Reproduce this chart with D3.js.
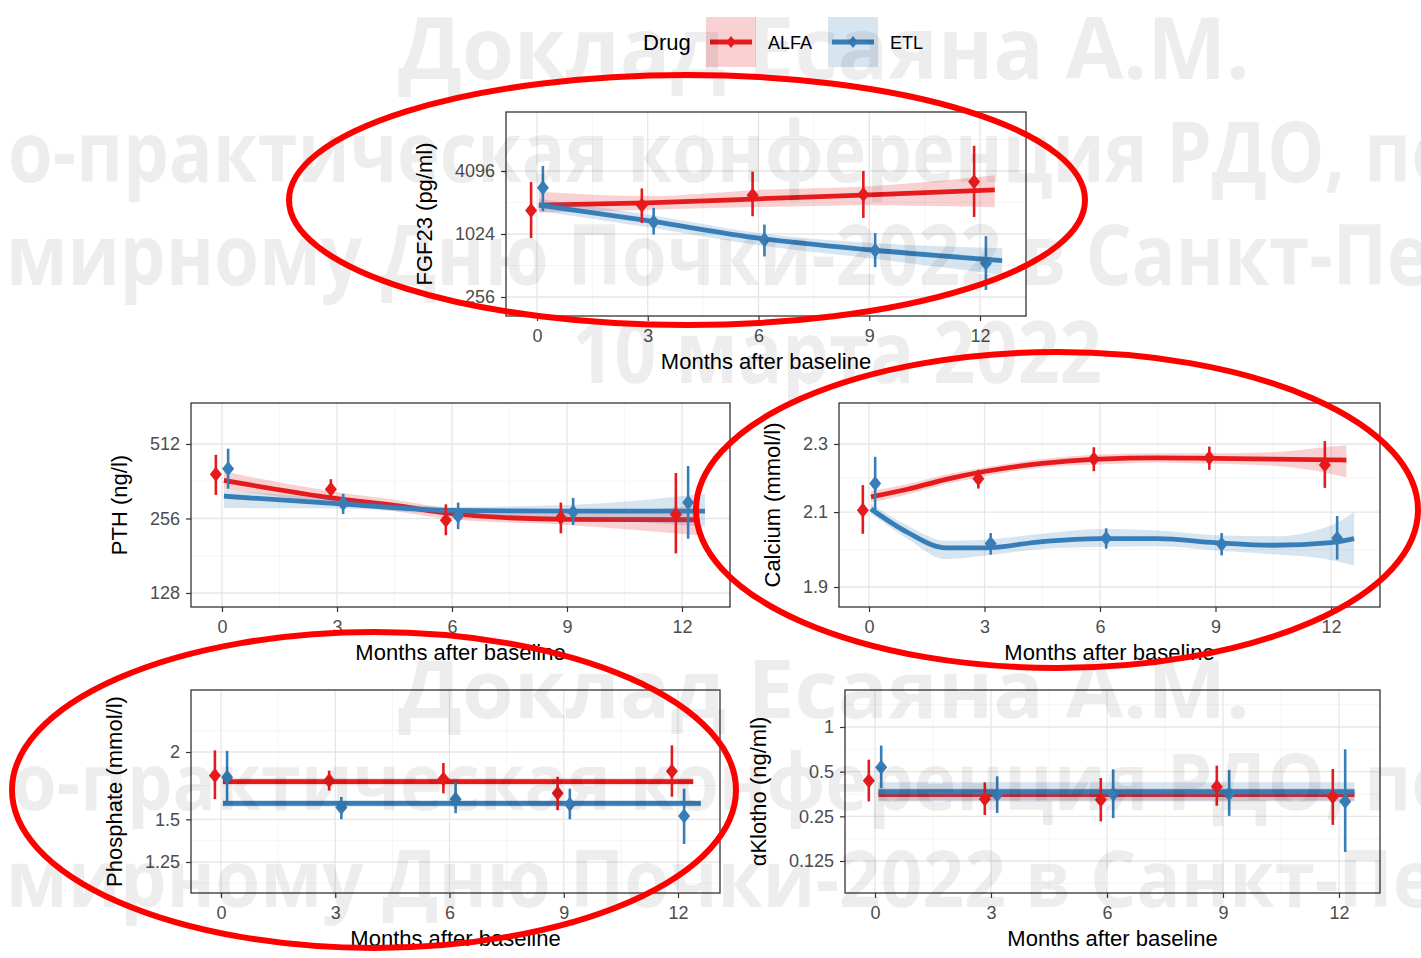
<!DOCTYPE html>
<html>
<head>
<meta charset="utf-8">
<script src="https://cdn.jsdelivr.net/npm/d3@7"></script>
<style>
  body { margin: 0; background: #fff; }
  svg { display: block; }
  text { font-family: "Liberation Sans", Arial, sans-serif; }
</style>
</head>
<body>
<svg id="chart" width="1421" height="958"></svg>
<script>
// ---------- data ----------
const months = [0, 3, 6, 9, 12];
const drugs = ["ALFA", "ETL"];
const drugColors = ["#E41A1C", "#377EB8"];

// FGF23 (pg/ml): observed mean and interval per visit
const fgf23Alfa   = [1718, 1932, 2407, 2443, 3235];
const fgf23AlfaLo = [938, 1306, 1514, 1460, 1490];
const fgf23AlfaHi = [3213, 2790, 4036, 4096, 7130];
const fgf23Etl    = [2832, 1335, 903, 714, 538];
const fgf23EtlLo  = [1690, 1010, 625, 494, 299];
const fgf23EtlHi  = [4570, 1822, 1260, 1046, 973];
// FGF23 fitted trend with confidence band
const fgf23FitXAlfa = [0.05, 3, 6, 9, 12.4];
const fgf23FitAlfa   = [1930, 2030, 2220, 2420, 2700];
const fgf23FitAlfaLo = [1631, 1750, 1850, 1930, 1845];
const fgf23FitAlfaHi = [2594, 2360, 2700, 2930, 3730];
const fgf23FitXEtl = [0.05, 3, 6, 9, 12.6];
const fgf23FitEtl   = [1930, 1375, 935, 724, 570];
const fgf23FitEtlLo = [1700, 1185, 800, 600, 417];
const fgf23FitEtlHi = [2220, 1570, 1046, 843, 750];

// PTH (ng/l)
const pthAlfa   = [386, 336, 252, 258, 266];
const pthAlfaLo = [319, 306, 219, 223, 185];
const pthAlfaHi = [463, 369, 292, 297, 391];
const pthEtl    = [407, 294, 262, 272, 297];
const pthEtlLo  = [338, 267, 232, 241, 212];
const pthEtlHi  = [490, 322, 297, 310, 417];
const pthFitXAlfa = [0.05, 3, 4.5, 6, 9, 12.4];
const pthFitAlfa   = [365, 308, 289, 268, 254, 253];
const pthFitAlfaLo = [336, 293, 274, 254, 241, 219];
const pthFitAlfaHi = [396, 327, 305, 281, 268, 289];
const pthFitXEtl = [0.05, 3, 6, 9, 12.6];
const pthFitEtl   = [315, 294, 276, 274, 274];
const pthFitEtlLo = [282, 281, 266, 258, 237];
const pthFitEtlHi = [334, 308, 285, 290, 322];

// Calcium (mmol/l)
const caAlfa   = [2.105, 2.196, 2.254, 2.258, 2.236];
const caAlfaLo = [2.040, 2.167, 2.218, 2.222, 2.169];
const caAlfaHi = [2.177, 2.222, 2.290, 2.292, 2.309];
const caEtl    = [2.182, 2.014, 2.028, 2.012, 2.028];
const caEtlLo  = [2.105, 1.984, 2.000, 1.982, 1.971];
const caEtlHi  = [2.261, 2.042, 2.055, 2.042, 2.089];
const caFitXAlfa = [0.05, 1, 2, 3, 4.5, 6, 7.5, 9, 10.5, 12, 12.4];
const caFitAlfa   = [2.143, 2.165, 2.194, 2.217, 2.241, 2.254, 2.258, 2.256, 2.254, 2.252, 2.251];
const caFitAlfaLo = [2.127, 2.150, 2.180, 2.203, 2.229, 2.238, 2.244, 2.240, 2.234, 2.210, 2.200];
const caFitAlfaHi = [2.160, 2.180, 2.208, 2.229, 2.254, 2.268, 2.272, 2.272, 2.275, 2.292, 2.296];
const caFitXEtl = [0.05, 1, 2, 3, 4.5, 6, 7.5, 9, 10.5, 12, 12.6];
const caFitEtl   = [2.109, 2.044, 2.002, 2.002, 2.019, 2.027, 2.027, 2.016, 2.009, 2.016, 2.027];
const caFitEtlLo = [2.095, 2.026, 1.972, 1.981, 1.999, 2.004, 2.006, 1.995, 1.985, 1.970, 1.955];
const caFitEtlHi = [2.124, 2.063, 2.021, 2.024, 2.040, 2.053, 2.049, 2.036, 2.033, 2.063, 2.100];

// Phosphate (mmol/l)
const phosAlfa   = [1.808, 1.770, 1.783, 1.676, 1.843];
const phosAlfaLo = [1.635, 1.696, 1.676, 1.560, 1.652];
const phosAlfaHi = [2.014, 1.847, 1.908, 1.799, 2.058];
const phosEtl    = [1.795, 1.577, 1.636, 1.600, 1.521];
const phosEtlLo  = [1.620, 1.500, 1.540, 1.500, 1.350];
const phosEtlHi  = [2.010, 1.650, 1.760, 1.710, 1.710];
const phosFitXAlfa = [0.05, 12.4];
const phosFitAlfa   = [1.762, 1.762];
const phosFitAlfaLo = [1.738, 1.738];
const phosFitAlfaHi = [1.787, 1.787];
const phosFitXEtl = [0.05, 12.6];
const phosFitEtl   = [1.606, 1.606];
const phosFitEtlLo = [1.583, 1.583];
const phosFitEtlHi = [1.630, 1.630];

// alpha-Klotho (ng/ml)
const klAlfa   = [0.435, 0.327, 0.323, 0.396, 0.339];
const klAlfaLo = [0.315, 0.255, 0.231, 0.295, 0.219];
const klAlfaHi = [0.602, 0.424, 0.453, 0.549, 0.521];
const klEtl    = [0.535, 0.350, 0.353, 0.353, 0.315];
const klEtlLo  = [0.387, 0.263, 0.243, 0.252, 0.144];
const klEtlHi  = [0.750, 0.465, 0.519, 0.514, 0.707];
const klFitXAlfa = [0.09, 12.4];
const klFitAlfa   = [0.350, 0.350];
const klFitAlfaLo = [0.320, 0.320];
const klFitAlfaHi = [0.385, 0.385];
const klFitXEtl = [0.09, 12.4];
const klFitEtl   = [0.366, 0.366];
const klFitEtlLo = [0.315, 0.315];
const klFitEtlHi = [0.425, 0.425];

// axis ticks
const fgf23Ticks = [256, 1024, 4096];
const pthTicks = [128, 256, 512];
const caTicks = [1.9, 2.1, 2.3];
const phosTicks = [1.25, 1.5, 2];
const klTicks = [0.125, 0.25, 0.5, 1];
const fgf23TickLabels = ["256", "1024", "4096"];
const pthTickLabels = ["128", "256", "512"];
const caTickLabels = ["1.9", "2.1", "2.3"];
const phosTickLabels = ["1.25", "1.5", "2"];
const klTickLabels = ["0.125", "0.25", "0.5", "1"];
const xTitle = "Months after baseline";

// ---------- helpers ----------
function series(x, y, lo, hi) { return x.map((v, i) => ({ x: v, y: y[i], lo: lo[i], hi: hi[i] })); }
function visits(y, lo, hi) { return months.map((m, i) => ({ x: m, y: y[i], lo: lo[i], hi: hi[i] })); }

// panel table: box = [left, top, right, bottom]
const panels = [
  { title: "FGF23 (pg/ml)", box: [506, 112, 1026, 316], x0: 537, x12: 980, ticks: fgf23Ticks, labels: fgf23TickLabels, yPx: [297, 171],
    obs: [visits(fgf23Alfa, fgf23AlfaLo, fgf23AlfaHi), visits(fgf23Etl, fgf23EtlLo, fgf23EtlHi)],
    fit: [series(fgf23FitXAlfa, fgf23FitAlfa, fgf23FitAlfaLo, fgf23FitAlfaHi), series(fgf23FitXEtl, fgf23FitEtl, fgf23FitEtlLo, fgf23FitEtlHi)] },
  { title: "PTH (ng/l)", box: [191, 403, 730, 607], x0: 222, x12: 682, ticks: pthTicks, labels: pthTickLabels, yPx: [593, 444],
    obs: [visits(pthAlfa, pthAlfaLo, pthAlfaHi), visits(pthEtl, pthEtlLo, pthEtlHi)],
    fit: [series(pthFitXAlfa, pthFitAlfa, pthFitAlfaLo, pthFitAlfaHi), series(pthFitXEtl, pthFitEtl, pthFitEtlLo, pthFitEtlHi)] },
  { title: "Calcium (mmol/l)", box: [839, 403, 1380, 607], x0: 869, x12: 1331, ticks: caTicks, labels: caTickLabels, yPx: [587, 444],
    obs: [visits(caAlfa, caAlfaLo, caAlfaHi), visits(caEtl, caEtlLo, caEtlHi)],
    fit: [series(caFitXAlfa, caFitAlfa, caFitAlfaLo, caFitAlfaHi), series(caFitXEtl, caFitEtl, caFitEtlLo, caFitEtlHi)] },
  { title: "Phosphate (mmol/l)", box: [191, 690, 720, 893], x0: 221, x12: 678, ticks: phosTicks, labels: phosTickLabels, yPx: [862, 752],
    obs: [visits(phosAlfa, phosAlfaLo, phosAlfaHi), visits(phosEtl, phosEtlLo, phosEtlHi)],
    fit: [series(phosFitXAlfa, phosFitAlfa, phosFitAlfaLo, phosFitAlfaHi), series(phosFitXEtl, phosFitEtl, phosFitEtlLo, phosFitEtlHi)] },
  { title: "\u03b1Klotho (ng/ml)", box: [845, 690, 1380, 893], x0: 875, x12: 1339, ticks: klTicks, labels: klTickLabels, yPx: [861, 727],
    obs: [visits(klAlfa, klAlfaLo, klAlfaHi), visits(klEtl, klEtlLo, klEtlHi)],
    fit: [series(klFitXAlfa, klFitAlfa, klFitAlfaLo, klFitAlfaHi), series(klFitXEtl, klFitEtl, klFitEtlLo, klFitEtlHi)] }
];

const dodge = [-0.16, 0.16];

// diamond marker: half-width 6, half-height 7.5
const wideDiamond = {
  draw(ctx) {
    ctx.moveTo(0, -7.5); ctx.lineTo(6, 0); ctx.lineTo(0, 7.5); ctx.lineTo(-6, 0); ctx.closePath();
  }
};
const diamondPath = d3.symbol(wideDiamond)();

// minor breaks on the log-transformed scale, midway between majors
function minorBreaks(ticks) {
  const L = ticks.map(Math.log);
  const bd = L[1] - L[0];
  const ext = [L[0] - bd, ...L, L[L.length - 1] + bd];
  const out = [];
  for (let i = 0; i < ext.length - 1; i++) out.push(Math.exp((ext[i] + ext[i + 1]) / 2));
  return out;
}

const svg = d3.select("#chart");
svg.append("rect").attr("width", 1421).attr("height", 958).attr("fill", "#fff");
const defs = svg.append("defs");

panels.forEach((p, pi) => {
  const [L, T, R, B] = p.box;
  const x = d3.scaleLinear().domain([0, 12]).range([p.x0, p.x12]);
  const y = d3.scaleLog().domain([p.ticks[0], p.ticks[p.ticks.length - 1]]).range(p.yPx);
  const xLo = x.invert(L), xHi = x.invert(R);
  const yLo = y.invert(B), yHi = y.invert(T);
  const g = svg.append("g");

  defs.append("clipPath").attr("id", "clip" + pi)
    .append("rect").attr("x", L).attr("y", T).attr("width", R - L).attr("height", B - T);

  // grid
  const grid = g.append("g");
  const xMinor = [-1.5, 1.5, 4.5, 7.5, 10.5, 13.5].filter(v => v > xLo && v < xHi);
  const yMinor = minorBreaks(p.ticks).filter(v => v > yLo && v < yHi);
  grid.selectAll(".xm").data(xMinor).join("line")
    .attr("x1", d => x(d)).attr("x2", d => x(d)).attr("y1", T).attr("y2", B)
    .attr("stroke", "#F2F2F2").attr("stroke-width", 0.8);
  grid.selectAll(".ym").data(yMinor).join("line")
    .attr("y1", d => y(d)).attr("y2", d => y(d)).attr("x1", L).attr("x2", R)
    .attr("stroke", "#F2F2F2").attr("stroke-width", 0.8);
  grid.selectAll(".xM").data(months).join("line")
    .attr("x1", d => x(d)).attr("x2", d => x(d)).attr("y1", T).attr("y2", B)
    .attr("stroke", "#E6E6E6").attr("stroke-width", 1.3);
  grid.selectAll(".yM").data(p.ticks).join("line")
    .attr("y1", d => y(d)).attr("y2", d => y(d)).attr("x1", L).attr("x2", R)
    .attr("stroke", "#E6E6E6").attr("stroke-width", 1.3);

  // fitted trends with confidence ribbons
  const plot = g.append("g").attr("clip-path", `url(#clip${pi})`);
  const area = d3.area().x(d => x(d.x)).y0(d => y(d.lo)).y1(d => y(d.hi)).curve(d3.curveMonotoneX);
  const line = d3.line().x(d => x(d.x)).y(d => y(d.y)).curve(d3.curveMonotoneX);
  p.fit.forEach((s, k) => {
    plot.append("path").attr("d", area(s)).attr("fill", drugColors[k]).attr("fill-opacity", 0.2);
    plot.append("path").attr("d", line(s)).attr("fill", "none")
      .attr("stroke", drugColors[k]).attr("stroke-width", 4.8);
  });

  // observed means with intervals
  p.obs.forEach((s, k) => {
    const gp = plot.append("g");
    gp.selectAll("line").data(s).join("line")
      .attr("x1", d => x(d.x + dodge[k])).attr("x2", d => x(d.x + dodge[k]))
      .attr("y1", d => y(d.lo)).attr("y2", d => y(d.hi))
      .attr("stroke", drugColors[k]).attr("stroke-width", 2.6);
    gp.selectAll("path").data(s).join("path")
      .attr("d", diamondPath)
      .attr("transform", d => `translate(${x(d.x + dodge[k])},${y(d.y)})`)
      .attr("fill", drugColors[k]);
  });

  // frame
  g.append("rect").attr("x", L).attr("y", T).attr("width", R - L).attr("height", B - T)
    .attr("fill", "none").attr("stroke", "#333").attr("stroke-width", 1.3);

  // axes
  const ax = g.append("g").attr("transform", `translate(0,${B})`)
    .call(d3.axisBottom(x).tickValues(months).tickSize(5).tickPadding(8));
  const ay = g.append("g").attr("transform", `translate(${L},0)`)
    .call(d3.axisLeft(y).tickValues(p.ticks).tickFormat((d, i) => p.labels[i]).tickSize(5).tickPadding(6));
  [ax, ay].forEach(a => {
    a.select(".domain").remove();
    a.selectAll(".tick line").attr("stroke", "#333").attr("stroke-width", 1.2);
    a.selectAll(".tick text").attr("fill", "#4D4D4D").style("font-size", "18px")
      .style("font-family", "'Liberation Sans', Arial, sans-serif");
  });

  // titles
  g.append("text").attr("x", (L + R) / 2).attr("y", B + 53).attr("text-anchor", "middle")
    .style("font-size", "22px").attr("fill", "#000").text(xTitle);
  let labelLeft = L;
  ay.selectAll(".tick text").each(function () { labelLeft = Math.min(labelLeft, this.getBBox().x + L); });
  g.append("text")
    .attr("transform", `translate(${labelLeft - 31},${(T + B) / 2}) rotate(-90)`)
    .attr("text-anchor", "middle").attr("dy", "0.35em")
    .style("font-size", "22px").attr("fill", "#000").text(p.title);
});

// ---------- legend ----------
const leg = svg.append("g");
leg.append("text").attr("x", 643).attr("y", 50).style("font-size", "22px").attr("fill", "#000").text("Drug");
const legX = [706, 828];
drugs.forEach((dname, k) => {
  const kx = legX[k];
  leg.append("rect").attr("x", kx).attr("y", 17).attr("width", 50).attr("height", 50)
    .attr("fill", drugColors[k]).attr("fill-opacity", 0.2);
  leg.append("line").attr("x1", kx + 4).attr("x2", kx + 46).attr("y1", 42).attr("y2", 42)
    .attr("stroke", drugColors[k]).attr("stroke-width", 4.8);
  leg.append("path").attr("d", diamondPath)
    .attr("transform", `translate(${kx + 25},42) scale(0.8)`).attr("fill", drugColors[k]);
  leg.append("text").attr("x", kx + 62).attr("y", 48.5).style("font-size", "18px").attr("fill", "#000").text(dname);
});

// ---------- watermark ----------
const wmText = [
  "Доклад Есаяна А.М.",
  "о-практическая конференция РДО, по",
  "мирному Дню Почки-2022 в Санкт-Пе",
  "10 марта 2022"
];
// [line index, x, baseline, length, font size]
const wmLayout = [
  [0, 398, 79, 852, 86],
  [1, 8, 182, 1448, 84],
  [2, 6, 285, 1424, 84],
  [3, 572, 383, 530, 86],
  [0, 398, 718, 852, 80],
  [1, 12, 810, 1444, 78],
  [2, 6, 907, 1430, 78]
];
const wm = svg.append("g").attr("fill", "#000").attr("fill-opacity", 0.07);
wmLayout.forEach(([i, wx, wy, len, fs]) => {
  wm.append("text").attr("x", wx).attr("y", wy)
    .attr("textLength", len).attr("lengthAdjust", "spacingAndGlyphs")
    .style("font-family", "'Open Sans', sans-serif").style("font-weight", 700)
    .style("font-size", fs + "px").text(wmText[i]);
});

// ---------- highlight ellipses ----------
const marks = [[687, 200, 398, 125], [1057, 510, 361, 158], [374, 790, 362, 158]];
svg.append("g").selectAll("ellipse").data(marks).join("ellipse")
  .attr("cx", d => d[0]).attr("cy", d => d[1]).attr("rx", d => d[2]).attr("ry", d => d[3])
  .attr("fill", "none").attr("stroke", "#FF0000").attr("stroke-width", 6);
</script>
</body>
</html>
